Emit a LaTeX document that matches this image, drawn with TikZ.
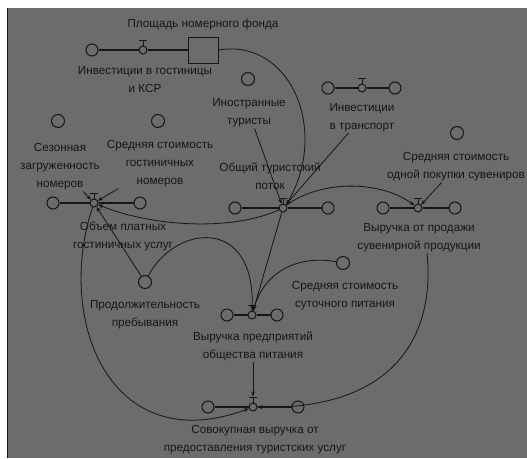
\documentclass[tikz,border=0pt]{standalone}
\usepackage{fontspec}
\setmainfont{Liberation Sans}
\usetikzlibrary{arrows.meta}
\definecolor{bg}{RGB}{108,108,108}
\definecolor{ink}{RGB}{22,22,22}
\newcommand{\valvetop}[1]{%
  \draw[ink,line width=1pt] (#1.north) -- ++(0,-5);
  \draw[ink,line width=1.8pt] ([shift={(-4,-5)}]#1.north) -- ++(8,0);}
\begin{document}
\begin{tikzpicture}[x=1pt,y=-1pt,
  lab/.style={font=\fontsize{11.7}{18}\selectfont, text=ink, align=center, inner sep=1pt},
  aux/.style={circle, draw=ink, line width=1pt, minimum size=13pt, inner sep=0pt},
  cloud/.style={circle, draw=ink, line width=1pt, minimum size=12pt, inner sep=0pt},
  valve/.style={circle, draw=ink, line width=1pt, minimum size=8pt, inner sep=0pt, fill=bg},
  pipe/.style={draw=ink, line width=2.4pt},
  link/.style={draw=ink, line width=0.8pt, -{Stealth[length=5pt,width=4pt]}},
  stockbox/.style={rectangle, draw=ink, line width=1pt, minimum width=30pt, minimum height=26pt}
]
\useasboundingbox (0,0) rectangle (527,458);
\fill[white] (0,0) rectangle (527,458);
\fill[bg] (7,8) rectangle (527,458);
\draw[ink,line width=1.5pt] (7.5,8) -- (7.5,458);

% stock
\node[stockbox] (S) at (203,50) {};
\node[lab] (lS) at (203,24) {Площадь номерного фонда};
% investments in hotels
\node[cloud] (c1) at (92,50) {};
\node[valve] (v1) at (143,50) {};
\node[lab] (l1) at (145,79.5) {Инвестиции в гостиницы\\и КСР};
\draw[pipe] (c1.east) -- (v1.west);
\draw[pipe] (v1.east) -- (S.west);
\valvetop{v1}
% foreign tourists
\node[aux] (iTc) at (248,79) {};
\node[lab] (iTl) at (249,113) {Иностранные\\туристы};
% transport
\node[cloud] (ctL) at (328,88) {};
\node[valve] (vTr) at (362,88) {};
\node[cloud] (ctR) at (395,88) {};
\node[lab] (trL) at (362,117.5) {Инвестиции\\в транспорт};
\draw[pipe] (ctL.east) -- (vTr.west);
\draw[pipe] (vTr.east) -- (ctR.west);
\valvetop{vTr}
% seasonal load
\node[aux] (sZc) at (58,121) {};
\node[lab] (sZl) at (60,167) {Сезонная\\загруженность\\номеров};
% avg hotel cost
\node[aux] (cHc) at (158,121) {};
\node[lab] (cHl) at (160,164) {Средняя стоимость\\гостиничных\\номеров};
% hotel flow
\node[cloud] (chL) at (53,203) {};
\node[valve] (vH) at (94,203) {};
\node[cloud] (chR) at (140,203) {};
\node[lab] (hL) at (123,236) {Объем платных\\гостиничных услуг};
\draw[pipe] (chL.east) -- (vH.west);
\draw[pipe] (vH.east) -- (chR.west);
\valvetop{vH}
% tourist flow
\node[cloud] (cTL) at (235,208) {};
\node[valve] (vT) at (283,208) {};
\node[cloud] (cTR) at (328,208) {};
\node[lab] (tL) at (270,176) {Общий туристский\\поток};
\draw[pipe] (cTL.east) -- (vT.west);
\draw[pipe] (vT.east) -- (cTR.west);
\valvetop{vT}
% souvenir flow
\node[cloud] (csL) at (383,208) {};
\node[valve] (vS) at (418,208) {};
\node[cloud] (csR) at (455,208) {};
\node[lab] (sL) at (419,237.5) {Выручка от продажи\\сувенирной продукции};
\draw[pipe] (csL.east) -- (vS.west);
\draw[pipe] (vS.east) -- (csR.west);
\valvetop{vS}
% souvenir cost
\node[aux] (sCc) at (457,133) {};
\node[lab] (sCl) at (456,167) {Средняя стоимость\\одной покупки сувениров};
% duration
\node[aux] (pDc) at (145,282) {};
\node[lab] (pDl) at (145,315) {Продолжительность\\пребывания};
% food flow
\node[cloud] (cfL) at (227,315) {};
\node[valve] (vF) at (252,315) {};
\node[cloud] (cfR) at (277,315) {};
\node[lab] (fL) at (253,346) {Выручка предприятий\\общества питания};
\draw[pipe] (cfL.east) -- (vF.west);
\draw[pipe] (vF.east) -- (cfR.west);
\valvetop{vF}
% food cost
\node[aux] (fCc) at (343,263) {};
\node[lab] (fCl) at (345,296) {Средняя стоимость\\суточного питания};
% total flow
\node[cloud] (cxL) at (208,407) {};
\node[valve] (vX) at (253,407) {};
\node[cloud] (cxR) at (298,407) {};
\node[lab] (xL) at (255,440) {Совокупная выручка от\\предоставления туристских услуг};
\draw[pipe] (cxL.east) -- (vX.west);
\draw[pipe] (vX.east) -- (cxR.west);
\valvetop{vX}

% links
\draw[link] (S.east) .. controls (290,38) and (330,130) .. (vT.north east);
\draw[link] (iTl) -- (vT);
\draw[link] (trL) -- (vT);
\draw[link] (vT) .. controls (230,232) and (150,226) .. (vH);
\draw[link] (vT) .. controls (320,180) and (380,180) .. (vS);
\draw[link] (sCl) -- (vS);
\draw[link] ([xshift=8pt]sL.south) .. controls (435,330) and (400,410) .. (vX);
\draw[link] (vH) .. controls (55,320) and (110,460) .. (vX);
\draw[link] (pDc) -- (vH);
\draw[link] (pDc) .. controls (175,225) and (255,215) .. (vF);
\draw[link] (vT) -- (vF);
\draw[link] (fCc) .. controls (300,255) and (265,270) .. (vF);
\draw[link] (fL) -- ([yshift=6pt]vX.north);
\draw[link] (sZl) -- (vH);
\draw[link] (cHl) -- (vH);
\end{tikzpicture}
\end{document}
